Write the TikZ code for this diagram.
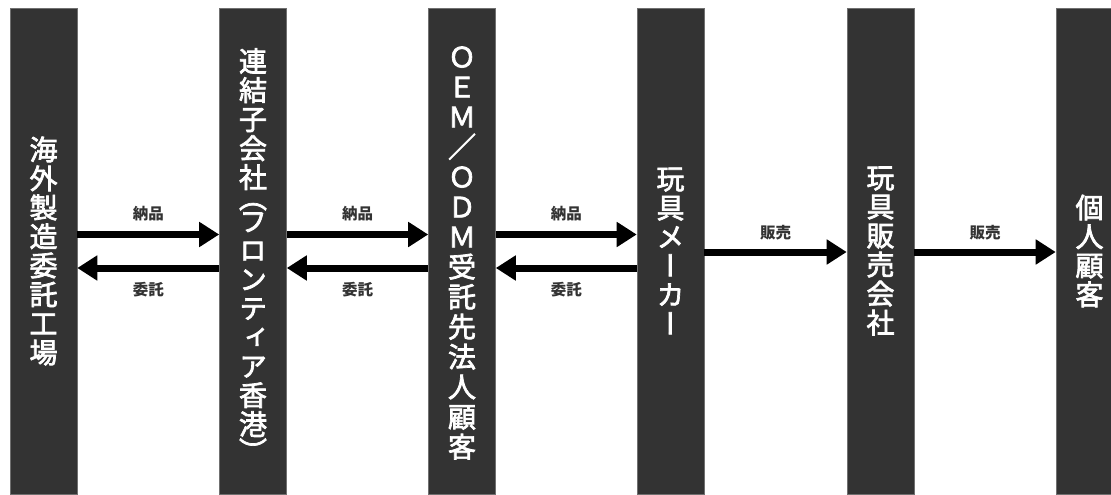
\documentclass[tikz,border=0pt]{standalone}
\usepackage{fontspec}
\usetikzlibrary{arrows.meta}
\newfontfamily\jp{Noto Sans CJK JP}
\newfontfamily\jpb[FakeBold=2.5]{Noto Sans CJK JP}
\newfontfamily\jpv[RawFeature=+vert,FakeBold=2.5]{Noto Sans CJK JP}
\definecolor{barc}{HTML}{333333}
\definecolor{lblc}{HTML}{333333}
\begin{document}
\begin{tikzpicture}[x=1pt,y=-1pt,
  bar/.style={fill=barc, draw=barc!70!white, line width=0.6pt, minimum width=67pt, minimum height=486pt, inner sep=0pt},
  vtext/.style={inner sep=0pt, text=white, align=center, font=\jpv\fontsize{28}{29}\selectfont},
  arr/.style={line width=7pt, -{Triangle[length=20pt,width=24pt]}},
  lbl/.style={font=\jp\bfseries\fontsize{15.5}{15.5}\selectfont, text=lblc, inner sep=0pt}]
\useasboundingbox (0,0) rectangle (1111,495);
\fill[white] (0,0) rectangle (1111,495);
% bars
\node[bar] (b1) at (43.5,251) {};
\node[bar] (b2) at (253,251) {};
\node[bar] (b3) at (462,251) {};
\node[bar] (b4) at (670.5,251) {};
\node[bar] (b5) at (880.5,251) {};
\node[bar] (b6) at (1089.5,251) {};
% vertical texts
\node[vtext] (t1) at (b1.center) {海\\外\\製\\造\\委\\託\\工\\場};
\node[vtext] (t2) at ([yshift=-4pt]b2.center) {連\\結\\子\\会\\社\\[-8.5pt]{\jpb ︵}\\[-5.5pt]フ\\ロ\\ン\\テ\\ィ\\ア\\香\\港\\[-2pt]{\jpb ︶}};
\node[vtext, font=\jpv\fontsize{28}{30}\selectfont] (t3) at ([yshift=-2pt]b3.center) {{\jpb Ｏ}\\{\jpb Ｅ}\\{\jpb Ｍ}\\{\jpb ／}\\{\jpb Ｏ}\\{\jpb Ｄ}\\{\jpb Ｍ}\\受\\託\\先\\法\\人\\顧\\客};
\node[vtext] (t4) at (b4.center) {玩\\具\\メ\\ー\\カ\\ー};
\node[vtext] (t5) at (b5.center) {玩\\具\\販\\売\\会\\社};
\node[vtext] (t6) at (b6.center) {個\\人\\顧\\客};
% deliveries / commissions
\draw[arr] ([yshift=16.5pt]b1.east) -- ([yshift=16.5pt]b2.west) node[lbl, midway, yshift=20.5pt] {納品};
\draw[arr] ([yshift=-17pt]b2.west) -- ([yshift=-17pt]b1.east) node[lbl, midway, yshift=-22pt] {委託};
\draw[arr] ([yshift=16.5pt]b2.east) -- ([yshift=16.5pt]b3.west) node[lbl, midway, yshift=20.5pt] {納品};
\draw[arr] ([yshift=-17pt]b3.west) -- ([yshift=-17pt]b2.east) node[lbl, midway, yshift=-22pt] {委託};
\draw[arr] ([yshift=16.5pt]b3.east) -- ([yshift=16.5pt]b4.west) node[lbl, midway, yshift=20.5pt] {納品};
\draw[arr] ([yshift=-17pt]b4.west) -- ([yshift=-17pt]b3.east) node[lbl, midway, yshift=-22pt] {委託};
% sales
\draw[arr] ([yshift=-1pt]b4.east) -- ([yshift=-1pt]b5.west) node[lbl, midway, yshift=19pt] {販売};
\draw[arr] ([yshift=-1pt]b5.east) -- ([yshift=-1pt]b6.west) node[lbl, midway, yshift=19pt] {販売};
\end{tikzpicture}
\end{document}
